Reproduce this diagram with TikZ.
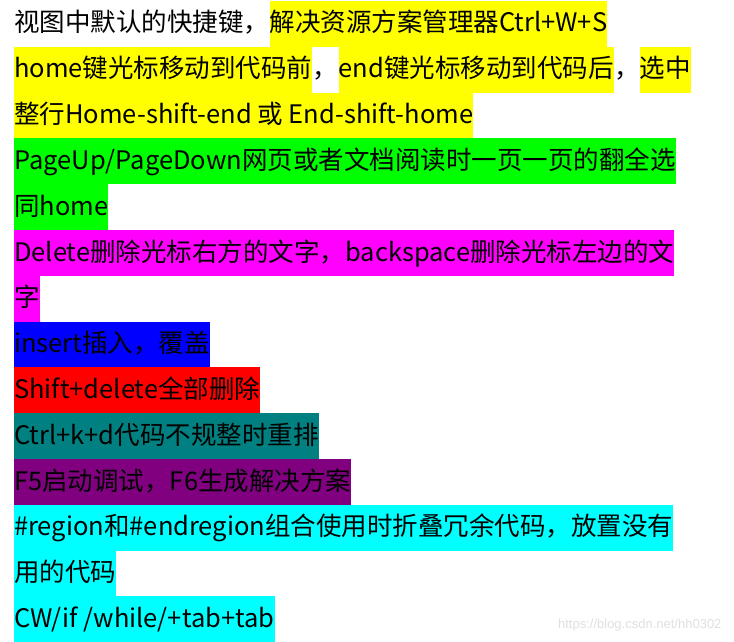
\documentclass[tikz,border=0pt]{standalone}
\usepackage{fontspec}
\setmainfont{Noto Sans CJK SC}
\newfontfamily\markfont{Liberation Sans}
\usetikzlibrary{positioning}
\definecolor{hlyellow}{RGB}{255,255,0}
\definecolor{hlgreen}{RGB}{0,255,0}
\definecolor{hlmagenta}{RGB}{255,0,255}
\definecolor{hlblue}{RGB}{0,0,255}
\definecolor{hlred}{RGB}{255,0,0}
\definecolor{hlteal}{RGB}{0,128,128}
\definecolor{hlpurple}{RGB}{128,0,128}
\definecolor{hlcyan}{RGB}{0,255,255}

\begin{document}
\begin{tikzpicture}[
        x=1pt, y=1pt,
        seg/.style={inner xsep=0pt, inner ysep=0pt, text height=31pt, text depth=14.8pt, font=\fontsize{25.5}{30}\selectfont},
        hl/.style={seg, fill=#1}
    ]
    \useasboundingbox (0,0) rectangle (734,-642);
    \fill[white] (0,0) rectangle (734,-642);

    % line 1
    \node[seg, anchor=base west] (l1a) at (14,-32) {视图中默认的快捷键，};
    \node[hl=hlyellow, right=0pt of l1a] (l1b) {解决资源方案管理器Ctrl+W+S};
    % line 2 and 3
    \node[hl=hlyellow, anchor=base west] (l2a) at (14,-77.8) {home键光标移动到代码前};
    \node[seg, right=0pt of l2a] (l2b) {，};
    \node[hl=hlyellow, right=0pt of l2b] (l2c) {end键光标移动到代码后};
    \node[seg, right=0pt of l2c] (l2d) {，};
    \node[hl=hlyellow, right=0pt of l2d] (l2e) {选中};
    \node[hl=hlyellow, anchor=base west] (l3) at (14,-123.6) {整行Home-shift-end 或 End-shift-home};
    % line 4 and 5
    \node[hl=hlgreen, anchor=base west] (l4) at (14,-169.4) {PageUp/PageDown网页或者文档阅读时一页一页的翻全选};
    \node[hl=hlgreen, anchor=base west] (l5) at (14,-215.2) {同home};
    % line 6 and 7
    \node[hl=hlmagenta, anchor=base west] (l6) at (14,-261) {Delete删除光标右方的文字，backspace删除光标左边的文};
    \node[hl=hlmagenta, anchor=base west] (l7) at (14,-306.8) {字};
    % single lines
    \node[hl=hlblue, anchor=base west] (l8) at (14,-352.6) {insert插入，覆盖};
    \node[hl=hlred, anchor=base west] (l9) at (14,-398.4) {Shift+delete全部删除};
    \node[hl=hlteal, anchor=base west] (l10) at (14,-444.2) {Ctrl+k+d代码不规整时重排};
    \node[hl=hlpurple, anchor=base west] (l11) at (14,-490) {F5启动调试，F6生成解决方案};
    % cyan block
    \node[hl=hlcyan, anchor=base west] (l12) at (14,-535.8) {\#region和\#endregion组合使用时折叠冗余代码，放置没有};
    \node[hl=hlcyan, anchor=base west] (l13) at (14,-581.6) {用的代码};
    \node[hl=hlcyan, anchor=base west] (l14) at (14,-627.4) {CW/if /while/+tab+tab};

    % watermark
    \node[anchor=base east, text=black!12, font=\markfont\fontsize{13}{15}\selectfont] (mark) at (725,-628) {https://blog.csdn.net/hh0302};
\end{tikzpicture}
\end{document}
